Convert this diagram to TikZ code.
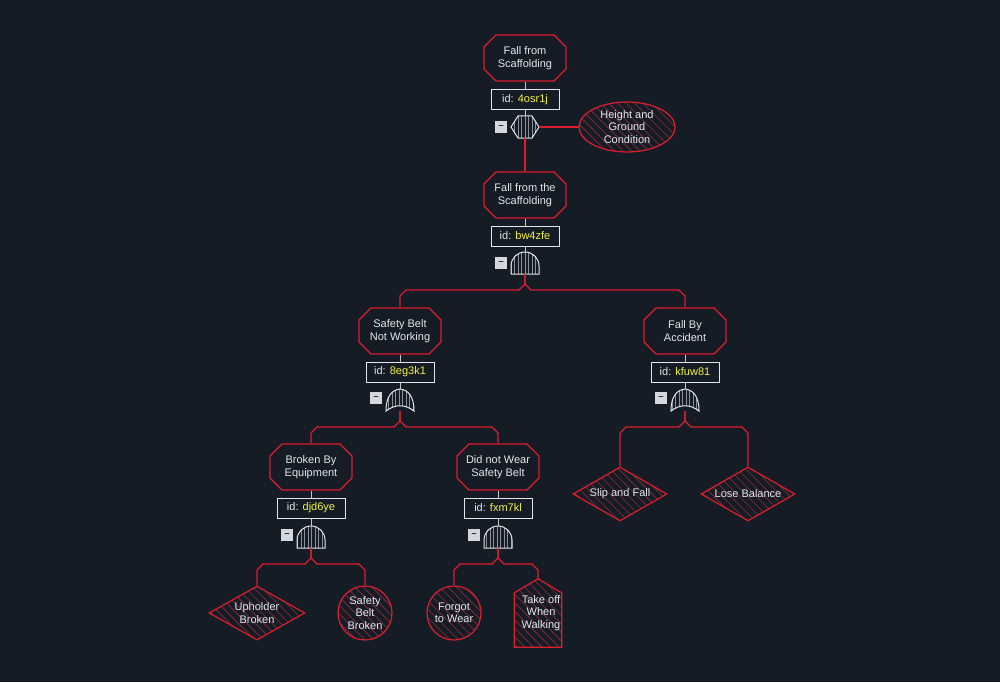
\documentclass[tikz,border=0pt]{standalone}
\usepackage{fontspec}
\setmainfont{Liberation Sans}
\usetikzlibrary{shapes.misc,shapes.geometric,patterns.meta,calc}
\definecolor{bg}{HTML}{151C26}
\definecolor{rd}{HTML}{DA1F2E}
\definecolor{wt}{HTML}{E3E6EC}
\definecolor{yl}{HTML}{F2F23A}
\definecolor{hatch}{HTML}{7A2A35}
\definecolor{gh}{HTML}{8A909A}
\tikzset{
 every node/.style={font=\fontsize{11}{12.5}\selectfont, text=wt, align=center},
 event/.style={chamfered rectangle, chamfered rectangle xsep=6pt, chamfered rectangle ysep=6pt, draw=rd, line width=1.2pt, minimum width=82pt, minimum height=46pt, inner sep=1pt},
 idbox/.style={draw=wt, line width=1pt, minimum width=68pt, minimum height=20pt, inner sep=1pt},
 gatebox/.style={minimum width=28pt, minimum height=22pt, inner sep=0pt},
 gatest/.style={draw=wt, line width=1pt, pattern={Lines[angle=90,distance=3.5pt,line width=0.6pt]}, pattern color=gh},
 basic/.style={draw=rd, line width=1.2pt, pattern={Lines[angle=-45,distance=6pt,line width=0.8pt]}, pattern color=hatch, inner sep=0pt},
 link/.style={draw=rd, line width=1.1pt},
 wlink/.style={draw=wt!70!gray, line width=1pt},
 minus/.style={fill=wt!85!gray, minimum width=12pt, minimum height=12pt, inner sep=0pt, text=bg, font=\bfseries\fontsize{9}{9}\selectfont},
}
\newcommand\idtxt[1]{id: \textcolor{yl}{#1}}
\newcommand\andg[1]{\draw[gatest,shift={(#1)}] (-14,11) -- (-14,3) arc[start angle=180,end angle=360,x radius=14,y radius=14] -- (14,11) -- cycle;}
\newcommand\org[1]{\draw[gatest,shift={(#1)}] (-14,11) .. controls (-14,-4) and (-8,-10) .. (0,-11) .. controls (8,-10) and (14,-4) .. (14,11) .. controls (5,4) and (-5,4) .. cycle;}
\newcommand\branch[3]{\draw[link] let \p1=(#1.south), \p2=(#2.north) in (\p1) -- (\x1,-#3pt+6pt) -- ({\x1+sign(\x2-\x1)*6pt},-#3pt) -- ({\x2-sign(\x2-\x1)*6pt},-#3pt) -- (\x2,-#3pt-6pt) -- (\p2);}
\begin{document}
\begin{tikzpicture}[x=1pt,y=-1pt]
\fill[bg] (0,0) rectangle (1000,682);
\useasboundingbox (0,0) rectangle (1000,682);
\node[event] (e1) at (525,58) {Fall from\\Scaffolding};
\node[idbox] (i1) at (525,100) {\idtxt{4osr1j}};
\node[gatebox] (g1) at (525,127) {};
\draw[gatest,shift={(g1)}] (-14,0) -- (-7,-11) -- (7,-11) -- (14,0) -- (7,11) -- (-7,11) -- cycle;
\node[minus] at (501,127) {--};
\node[basic, ellipse, minimum width=96pt, minimum height=50pt] (c0) at (627,127) {Height and\\Ground\\Condition};
\node[event] (e2) at (525,195) {Fall from the\\Scaffolding};
\node[idbox] (i2) at (525,236) {\idtxt{bw4zfe}};
\node[gatebox] (g2) at (525,263) {}; \andg{g2}
\node[minus] at (501,263) {--};
\node[event] (e3) at (400,331) {Safety Belt\\Not Working};
\node[idbox] (i3) at (400,372) {\idtxt{8eg3k1}};
\node[gatebox] (g3) at (400,400) {}; \org{g3}
\node[minus] at (376,398) {--};
\node[event] (e4) at (685,331) {Fall By\\Accident};
\node[idbox] (i4) at (685,372) {\idtxt{kfuw81}};
\node[gatebox] (g4) at (685,400) {}; \org{g4}
\node[minus] at (661,398) {--};
\node[event] (e5) at (311,467) {Broken By\\Equipment};
\node[idbox] (i5) at (311,508) {\idtxt{djd6ye}};
\node[gatebox] (g5) at (311,537) {}; \andg{g5}
\node[minus] at (287,535) {--};
\node[event] (e6) at (498,467) {Did not Wear\\Safety Belt};
\node[idbox] (i6) at (498,508) {\idtxt{fxm7kl}};
\node[gatebox] (g6) at (498,537) {}; \andg{g6}
\node[minus] at (474,535) {--};
\node[basic, diamond, minimum width=94pt, minimum height=54pt, aspect=1.74] (d1) at (620,494) {Slip and Fall};
\node[basic, diamond, minimum width=94pt, minimum height=54pt, aspect=1.74] (d2) at (748,494) {Lose Balance};
\node[basic, diamond, minimum width=96pt, minimum height=54pt, aspect=1.78] (d3) at (257,613) {Upholder\\Broken};
\node[basic, circle, minimum size=54pt] (c1) at (365,613) {Safety\\Belt\\Broken};
\node[basic, circle, minimum size=54pt] (c2) at (454,613) {Forgot\\to Wear};
\node[minimum width=47pt, minimum height=68pt, inner sep=0pt] (h) at (538,613) {};
\draw[basic] ($(h.north west)+(0,14)$) -- (h.north) -- ($(h.north east)+(0,14)$) -- (h.south east) -- (h.south west) -- cycle;
\node at ($(h.center)+(3,0)$) {Take off\\When\\Walking};
\foreach \a/\b in {e1/i1,e2/i2,e3/i3,e4/i4,e5/i5,e6/i6}{\draw[wlink] (\a.south) -- (\b.north);}
\foreach \a/\b in {i1/g1,i2/g2,i3/g3,i4/g4,i5/g5,i6/g6}{\draw[wlink] (\a.south) -- (\b.north);}
\draw[link] (g1.east) -- (c0.west);
\draw[link] (g1.south) -- (e2.north);
\branch{g2}{e3}{290}\branch{g2}{e4}{290}
\branch{g3}{e5}{427}\branch{g3}{e6}{427}
\branch{g4}{d1}{427}\branch{g4}{d2}{427}
\branch{g5}{d3}{564}\branch{g5}{c1}{564}
\branch{g6}{c2}{564}\branch{g6}{h}{564}
\end{tikzpicture}
\end{document}
